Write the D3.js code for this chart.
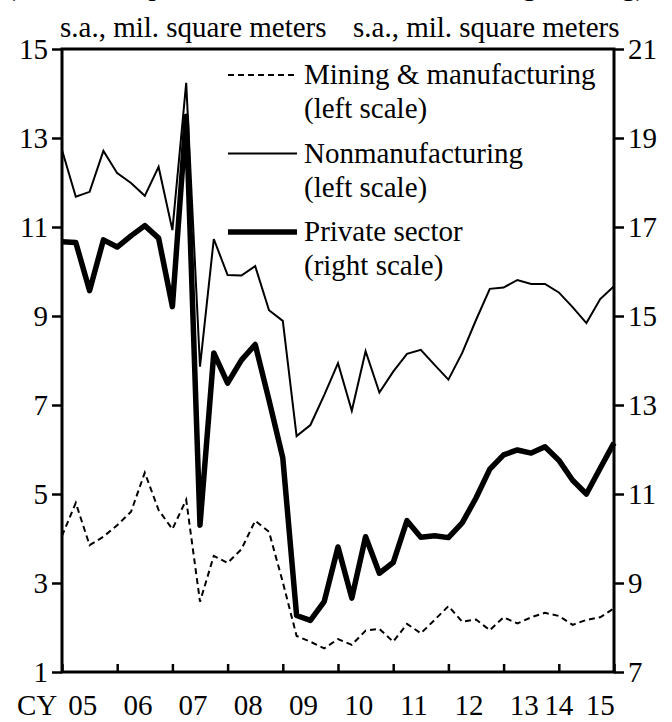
<!DOCTYPE html>
<html>
<head>
<meta charset="utf-8">
<script src="https://cdn.jsdelivr.net/npm/d3@7"></script>
<style>
  body { margin: 0; background: #fff; }
</style>
</head>
<body>
<div id="chart"></div>
<script>

// DATA: quarterly, CY2005 Q1 .. CY2015 Q1
var quarters = d3.range(0, 41);

// left scale
var mining = [4.06, 4.80, 3.85, 4.04, 4.30, 4.60, 5.48, 4.64, 4.21, 4.87,
  2.58, 3.61, 3.45, 3.76, 4.40, 4.15, 3.02, 1.81, 1.68, 1.53,
  1.74, 1.61, 1.93, 1.97, 1.68, 2.08, 1.87, 2.17, 2.48, 2.13,
  2.18, 1.94, 2.23, 2.09, 2.23, 2.33, 2.26, 2.06, 2.17, 2.23, 2.43];

// left scale
var nonmanuf = [12.73, 11.68, 11.79, 12.71, 12.21, 11.99, 11.70, 12.35, 10.93, 14.24,
  7.86, 10.73, 9.92, 9.91, 10.12, 9.13, 8.89, 6.30, 6.55, 7.22,
  7.94, 6.87, 8.21, 7.28, 7.75, 8.15, 8.24, 7.90, 7.57, 8.17,
  8.91, 9.61, 9.64, 9.81, 9.72, 9.72, 9.53, 9.20, 8.84, 9.38, 9.67];

// right scale
var privateSector = [16.67, 16.65, 15.57, 16.71, 16.55, 16.80, 17.03, 16.75, 15.21, 19.49,
  10.30, 14.17, 13.49, 14.01, 14.36, 13.11, 11.81, 8.27, 8.16, 8.58,
  9.81, 8.66, 10.04, 9.22, 9.46, 10.40, 10.03, 10.06, 10.02, 10.35,
  10.91, 11.56, 11.88, 11.99, 11.92, 12.06, 11.76, 11.31, 11.00, 11.58, 12.15];

var leftTicks = [1, 3, 5, 7, 9, 11, 13, 15];
var rightTicks = [7, 9, 11, 13, 15, 17, 19, 21];
var yearTicks = [0, 4, 8, 12, 16, 20, 24, 28, 32, 36, 40];
var yearLabels = ["05", "06", "07", "08", "09", "10", "11", "12", "13", "14", "15"];
var yearLabelPos = [1.5, 5.5, 9.5, 13.5, 17.5, 21.5, 25.5, 29.5, 33.5, 36, 39];

var legendItems = [
  {name: "Mining & manufacturing", sub: "(left scale)", dash: "6,4", w: 2},
  {name: "Nonmanufacturing", sub: "(left scale)", dash: null, w: 2},
  {name: "Private sector", sub: "(right scale)", dash: null, w: 5.5}
];

//////////////////////// D3 STUFF

var margin = {top: 49, right: 58, bottom: 50, left: 62},
  width = 672 - margin.left - margin.right,
  height = 722 - margin.top - margin.bottom;

var FONT = "'Liberation Serif', 'DejaVu Serif', serif";
var fs = 29;

var svg = d3.select("#chart")
.append("svg")
  .attr("width", 672)
  .attr("height", 722)
  .style("font-family", FONT)
.append("g")
  .attr("transform", "translate(" + margin.left + "," + margin.top + ")");

var x = d3.scaleLinear().domain([0, 40]).range([0, width]);
var yL = d3.scaleLinear().domain([1, 15]).range([height, 0]);
var yR = d3.scaleLinear().domain([7, 21]).range([height, 0]);

// clipped title line at the very top
svg.append("text")
  .attr("x", -56)
  .attr("y", -margin.top - 5)
  .style("font-size", fs + "px")
  .text("(Floor area, private, nonresidential, excluding housing)");

// units
svg.append("text")
  .attr("x", -2).attr("y", -12)
  .style("font-size", fs + "px")
  .text("s.a., mil. square meters");
svg.append("text")
  .attr("x", 291).attr("y", -12)
  .style("font-size", fs + "px")
  .text("s.a., mil. square meters");

// AXES
var axisLeft = svg.append("g")
  .call(d3.axisLeft(yL).tickValues(leftTicks).tickSize(10).tickPadding(4).tickFormat(d3.format("d")));
var axisRight = svg.append("g")
  .attr("transform", "translate(" + width + ",0)")
  .call(d3.axisRight(yR).tickValues(rightTicks).tickSize(10).tickPadding(4).tickFormat(d3.format("d")));
var axisBottom = svg.append("g")
  .attr("transform", "translate(0," + height + ")")
  .call(d3.axisBottom(x).tickValues(yearTicks).tickSize(-8).tickFormat(""));

[axisLeft, axisRight, axisBottom].forEach(function(a) {
  a.attr("font-family", FONT).attr("font-size", fs);
  a.select(".domain").remove();
  a.selectAll("line").attr("stroke", "#000").attr("stroke-width", 2.5);
  a.selectAll("text").attr("fill", "#000");
});

// frame
svg.append("rect")
  .attr("width", width).attr("height", height)
  .attr("fill", "none").attr("stroke", "#000").attr("stroke-width", 3);

// year labels
svg.append("text")
  .attr("x", -45).attr("y", height + 43)
  .style("font-size", fs + "px")
  .text("CY");
svg.selectAll(".yl")
  .data(yearLabels)
  .enter()
  .append("text")
  .attr("class", "yl")
  .attr("x", function(d, i) { return x(yearLabelPos[i]); })
  .attr("y", height + 43)
  .attr("text-anchor", "middle")
  .style("font-size", fs + "px")
  .text(function(d) { return d; });

// LINES
var lineL = d3.line().x(function(d, i) { return x(quarters[i]); }).y(function(d) { return yL(d); });
var lineR = d3.line().x(function(d, i) { return x(quarters[i]); }).y(function(d) { return yR(d); });

svg.append("path")
  .datum(mining)
  .attr("d", lineL)
  .attr("fill", "none").attr("stroke", "#000").attr("stroke-width", 2)
  .attr("stroke-dasharray", "6,4");

svg.append("path")
  .datum(nonmanuf)
  .attr("d", lineL)
  .attr("fill", "none").attr("stroke", "#000").attr("stroke-width", 2)
  .attr("stroke-linejoin", "miter");

svg.append("path")
  .datum(privateSector)
  .attr("d", lineR)
  .attr("fill", "none").attr("stroke", "#000").attr("stroke-width", 5.5)
  .attr("stroke-linejoin", "round");

// LEGEND
var legend = svg.selectAll(".leg")
  .data(legendItems)
  .enter()
  .append("g")
  .attr("class", "leg")
  .attr("transform", function(d, i) { return "translate(166," + (26 + i * 78.5) + ")"; });

legend.append("line")
  .attr("x1", 0).attr("x2", 69)
  .attr("stroke", "#000")
  .attr("stroke-width", function(d) { return d.w; })
  .attr("stroke-dasharray", function(d) { return d.dash; });
legend.append("text")
  .attr("x", 76).attr("y", 9)
  .style("font-size", fs + "px")
  .text(function(d) { return d.name; });
legend.append("text")
  .attr("x", 76).attr("y", 43)
  .style("font-size", fs + "px")
  .text(function(d) { return d.sub; });

</script>
</body>
</html>
